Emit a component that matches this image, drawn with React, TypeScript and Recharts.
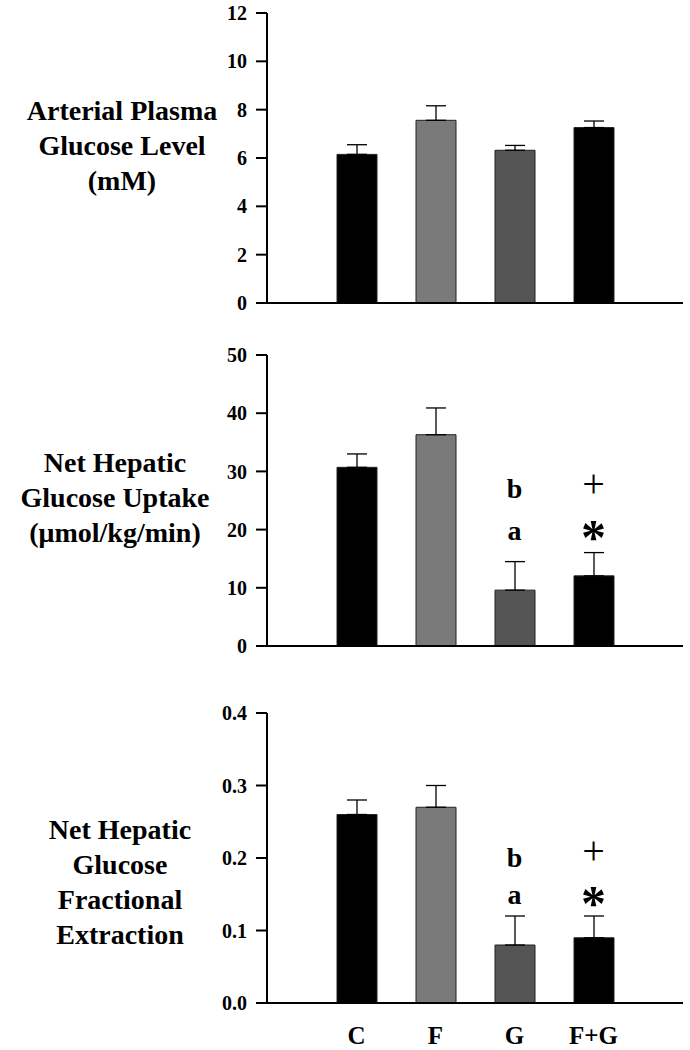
import { BarChart, Bar, XAxis, YAxis, Cell, ErrorBar, ReferenceDot } from "recharts";

const groups = ["C", "F", "G", "F+G"];
const barColors = ["#000000", "#7a7a7a", "#555555", "#000000"];

const glucoseMean = [6.15, 7.56, 6.32, 7.26];
const glucoseErr = [0.4, 0.6, 0.2, 0.27];
const glucoseTicks = [0, 2, 4, 6, 8, 10, 12];

const uptakeMean = [30.7, 36.3, 9.6, 12.05];
const uptakeErr = [2.3, 4.6, 4.9, 4.0];
const uptakeTicks = [0, 10, 20, 30, 40, 50];
const uptakeMarks = [
  { group: "G", y: 27, text: "b" },
  { group: "G", y: 19.8, text: "a" },
  { group: "F+G", y: 28, text: "+" },
  { group: "F+G", y: 20.2, text: "*" },
];

const fracMean = [0.26, 0.27, 0.08, 0.09];
const fracErr = [0.02, 0.03, 0.04, 0.03];
const fracTicks = [0, 0.1, 0.2, 0.3, 0.4];
const fracMarks = [
  { group: "G", y: 0.201, text: "b" },
  { group: "G", y: 0.149, text: "a" },
  { group: "F+G", y: 0.21, text: "+" },
  { group: "F+G", y: 0.151, text: "*" },
];

const FONT = "Liberation Serif, DejaVu Serif, serif";

function toRows(mean: number[], err: number[]) {
  return groups.map((g, i) => ({ group: g, value: mean[i], err: [0, err[i]] }));
}

function markShape(text: string) {
  return (props: any) => {
    const { cx, cy } = props;
    if (text === "+") {
      return (
        <text x={cx} y={cy} textAnchor="middle" dominantBaseline="central" fontFamily={FONT} fontSize={40} fill="#000">
          +
        </text>
      );
    }
    if (text === "*") {
      return (
        <text x={cx} y={cy} dy={9} textAnchor="middle" dominantBaseline="central" fontFamily={FONT} fontWeight="bold" fontSize={50} fill="#000">
          *
        </text>
      );
    }
    return (
      <text x={cx} y={cy} textAnchor="middle" dominantBaseline="central" fontFamily={FONT} fontWeight="bold" fontSize={28} fill="#000">
        {text}
      </text>
    );
  };
}

const GroupTick = (props: any) => {
  const { x, y, payload } = props;
  return (
    <text x={x} y={y + 33} textAnchor="middle" fontFamily={FONT} fontWeight="bold" fontSize={25} fill="#000">
      {payload.value}
    </text>
  );
};

interface PanelProps {
  top: number;
  height: number;
  marginTop: number;
  xHeight: number;
  rows: any[];
  domain: [number, number];
  ticks: number[];
  fmt?: (v: number) => string;
  marks?: { group: string; y: number; text: string }[];
  showGroups?: boolean;
}

function Panel({ top, height, marginTop, xHeight, rows, domain, ticks, fmt, marks, showGroups }: PanelProps) {
  return (
    <div style={{ position: "absolute", left: 0, top, width: 690, height }}>
      <BarChart width={690} height={height} data={rows} margin={{ top: marginTop, right: 7, left: 0, bottom: 0 }}>
        <XAxis
          dataKey="group"
          height={xHeight}
          padding={{ left: 50, right: 50 }}
          axisLine={{ stroke: "#000", strokeWidth: 2 }}
          tickLine={false}
          tick={showGroups ? <GroupTick /> : false}
        />
        <YAxis
          width={267}
          domain={domain}
          ticks={ticks}
          interval={0}
          tickSize={11}
          tickMargin={9}
          tickFormatter={fmt}
          axisLine={{ stroke: "#000", strokeWidth: 2 }}
          tickLine={{ stroke: "#000", strokeWidth: 2 }}
          tick={{ fill: "#000", fontSize: 20, fontWeight: "bold", fontFamily: FONT }}
        />
        <Bar dataKey="value" barSize={40} stroke="#222" strokeWidth={1} isAnimationActive={false}>
          {rows.map((_: any, i: number) => (
            <Cell key={i} fill={barColors[i]} />
          ))}
          <ErrorBar dataKey="err" width={10} stroke="#000" strokeWidth={1.3} direction="y" isAnimationActive={false} />
        </Bar>
        {(marks || []).map((m, i) => (
          <ReferenceDot key={i} x={m.group} y={m.y} r={0} shape={markShape(m.text)} />
        ))}
      </BarChart>
    </div>
  );
}

const labelStyle: React.CSSProperties = {
  position: "absolute",
  textAlign: "center",
  fontFamily: FONT,
  fontWeight: "bold",
  fontSize: 28,
  lineHeight: "35px",
  color: "#000",
  whiteSpace: "nowrap",
};

export default function App() {
  return (
    <div style={{ position: "absolute", left: 0, top: 0, width: 690, height: 1050, background: "#fff" }}>
      <div style={{ ...labelStyle, left: 0, width: 244, top: 93 }}>
        Arterial Plasma<br />Glucose Level<br />(mM)
      </div>
      <div style={{ ...labelStyle, left: 0, width: 230, top: 445 }}>
        Net Hepatic<br />Glucose Uptake<br />(μmol/kg/min)
      </div>
      <div style={{ ...labelStyle, left: 0, width: 240, top: 812 }}>
        Net Hepatic<br />Glucose<br />Fractional<br />Extraction
      </div>

      <Panel
        top={0}
        height={320}
        marginTop={13}
        xHeight={17}
        rows={toRows(glucoseMean, glucoseErr)}
        domain={[0, 12]}
        ticks={glucoseTicks}
      />
      <Panel
        top={340}
        height={320}
        marginTop={15}
        xHeight={14}
        rows={toRows(uptakeMean, uptakeErr)}
        domain={[0, 50]}
        ticks={uptakeTicks}
        marks={uptakeMarks}
      />
      <Panel
        top={700}
        height={350}
        marginTop={13}
        xHeight={47}
        rows={toRows(fracMean, fracErr)}
        domain={[0, 0.4]}
        ticks={fracTicks}
        fmt={(v) => v.toFixed(1)}
        marks={fracMarks}
        showGroups
      />
    </div>
  );
}
